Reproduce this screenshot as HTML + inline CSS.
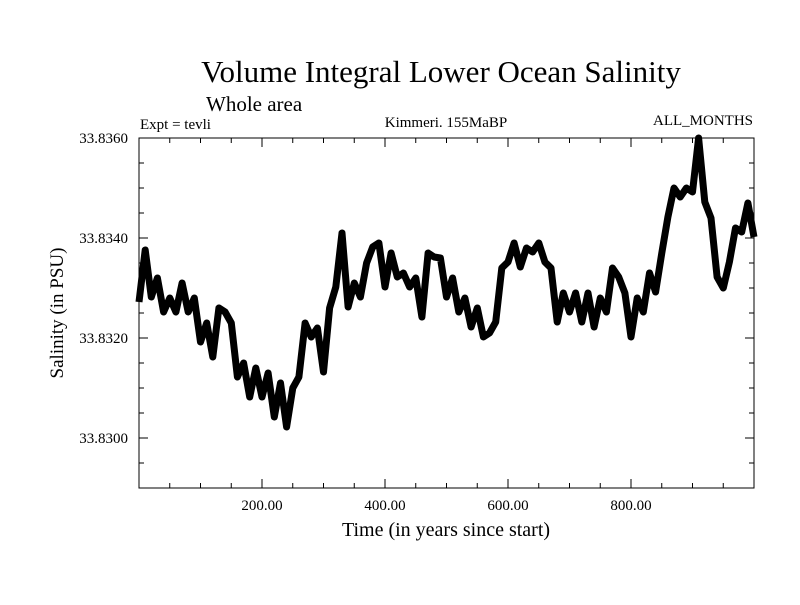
<!DOCTYPE html>
<html><head><meta charset="utf-8"><style>
body{margin:0;background:#fff;}
svg text{font-family:"Liberation Serif",serif;fill:#000;}
</style></head><body>
<svg id="chart" width="800" height="600" xmlns="http://www.w3.org/2000/svg">
<rect width="800" height="600" fill="#fff"/>
<text x="441" y="82" font-size="31" text-anchor="middle">Volume Integral Lower Ocean Salinity</text>
<text x="206" y="111" font-size="21">Whole area</text>
<text x="140" y="129" font-size="15">Expt = tevli</text>
<text x="446" y="127" font-size="15" text-anchor="middle">Kimmeri. 155MaBP</text>
<text x="753" y="125" font-size="15" text-anchor="end">ALL_MONTHS</text>
<text transform="translate(63,313) rotate(-90)" font-size="19" text-anchor="middle">Salinity (in PSU)</text>
<text x="446" y="536" font-size="20" text-anchor="middle">Time (in years since start)</text>
<g id="axes"></g>
<g id="plot"></g>
</svg>
<script>
const xTicks=[200,400,600,800];
const xTickLabels=["200.00","400.00","600.00","800.00"];
const yTicks=[33.830,33.832,33.834,33.836];
const yTickLabels=["33.8300","33.8320","33.8340","33.8360"];
const years=[0,10,20,30,40,50,60,70,80,90,100,110,120,130,140,150,160,170,180,190,200,210,220,230,240,250,260,270,280,290,300,310,320,330,340,350,360,370,380,390,400,410,420,430,440,450,460,470,480,490,500,510,520,530,540,550,560,570,580,590,600,610,620,630,640,650,660,670,680,690,700,710,720,730,740,750,760,770,780,790,800,810,820,830,840,850,860,870,880,890,900,910,920,930,940,950,960,970,980,990,1000];
const salinity=[33.83272,33.83376,33.83282,33.83320,33.83252,33.83280,33.83252,33.83310,33.83252,33.83280,
33.83192,33.83230,33.83162,33.83260,33.83252,33.83230,33.83122,33.83150,33.83082,33.83140,
33.83082,33.83130,33.83042,33.83110,33.83022,33.83100,33.83122,33.83230,33.83202,33.83220,
33.83132,33.83260,33.83302,33.83410,33.83262,33.83310,33.83282,33.83350,33.83382,33.83390,
33.83302,33.83370,33.83322,33.83330,33.83302,33.83320,33.83242,33.83370,33.83362,33.83360,
33.83282,33.83320,33.83252,33.83280,33.83222,33.83260,33.83202,33.83210,33.83232,33.83340,
33.83352,33.83390,33.83342,33.83380,33.83372,33.83390,33.83352,33.83340,33.83232,33.83290,
33.83252,33.83290,33.83232,33.83290,33.83222,33.83280,33.83252,33.83340,33.83322,33.83290,
33.83202,33.83280,33.83252,33.83330,33.83292,33.83370,33.83442,33.83500,33.83482,33.83500,
33.83492,33.83600,33.83472,33.83440,33.83322,33.83300,33.83352,33.83420,33.83412,33.83470,33.83402];
const L=139,R=754,T=138,B=488,X0=0,X1=1000,Y0=33.829,Y1=33.836;
const sx=v=>L+(v-X0)/(X1-X0)*(R-L);
const sy=v=>B-(v-Y0)/(Y1-Y0)*(B-T);
const NS="http://www.w3.org/2000/svg";
const axes=document.getElementById('axes'),plot=document.getElementById('plot');
function mk(tag,attrs,parent){const e=document.createElementNS(NS,tag);for(const k in attrs)e.setAttribute(k,attrs[k]);parent.appendChild(e);return e;}
const frame=mk('rect',{x:L,y:T,width:R-L,height:B-T,fill:'none',stroke:'#000','stroke-width':1},axes);


for(let v=50;v<1000;v+=50){const len=(v%200===0)?9:5;const x=sx(v);
mk('line',{x1:x,y1:B,x2:x,y2:B-len,stroke:'#000'},axes);
mk('line',{x1:x,y1:T,x2:x,y2:T+len,stroke:'#000'},axes);}
for(let k=0;k<=14;k++){const v=Y0+k*0.0005;const y=sy(v);const major=(k%4===2);const len=major?9:5;
mk('line',{x1:L,y1:y,x2:L+len,y2:y,stroke:'#000'},axes);
mk('line',{x1:R,y1:y,x2:R-len,y2:y,stroke:'#000'},axes);}
xTicks.forEach((v,i)=>{const t=mk('text',{x:sx(v),y:510,'font-size':15,'text-anchor':'middle'},axes);t.textContent=xTickLabels[i];

});
yTicks.forEach((v,i)=>{const t=mk('text',{x:128,y:sy(v)+5,'font-size':15,'text-anchor':'end'},axes);t.textContent=yTickLabels[i];

});
const pts=years.map((yr,i)=>sx(yr).toFixed(1)+','+sy(salinity[i]).toFixed(1)).join(' ');
const line=mk('polyline',{points:pts,fill:'none',stroke:'#000','stroke-width':7,'stroke-linejoin':'round'},plot);


</script>
</body></html>
